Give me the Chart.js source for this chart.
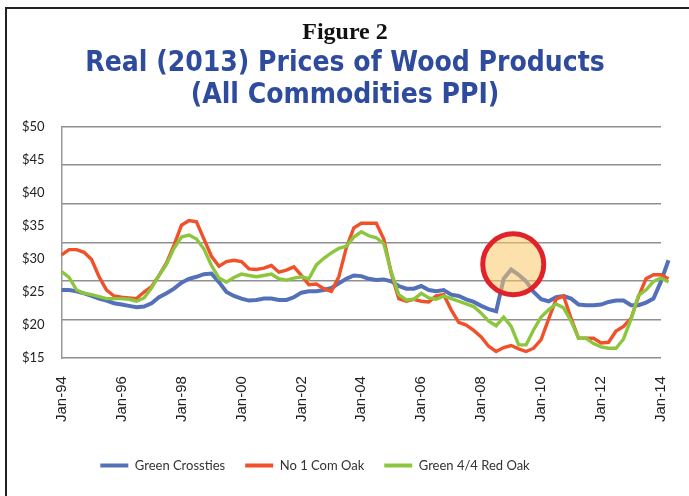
<!DOCTYPE html>
<html>
<head>
<meta charset="utf-8">
<script src="https://cdn.jsdelivr.net/npm/chart.js@4.4.1/dist/chart.umd.min.js"></script>
<style>
  html, body { margin: 0; padding: 0; background: #fff; }
  #wrap { position: relative; width: 689px; height: 496px; overflow: hidden; }
  #frame { position: absolute; left: 5px; top: 7px; width: 800px; height: 600px;
           border-left: 2px solid #222; border-top: 2px solid #222; }
  canvas { position: absolute; left: 0; top: 0; }
</style>
</head>
<body>
<div id="wrap">
  <div id="frame"></div>
  <canvas id="c" width="689" height="496"></canvas>
</div>
<script>
// ---- Data (quarterly readings, Jan-94 .. Apr-14) ----
const periods = [];
for (let y = 1994; y <= 2014; y++) {
  for (const m of [1, 4, 7, 10]) {
    if (periods.length < 82) periods.push(y + '-' + String(m).padStart(2, '0'));
  }
}
const greenCrossties = [25.3,25.3,25.1,24.8,24.4,24.0,23.7,23.3,23.1,22.9,
  22.7,22.8,23.3,24.2,24.8,25.5,26.4,27.0,27.3,27.7,
  27.8,26.5,25.0,24.4,24.0,23.7,23.8,24.0,24.0,23.8,
  23.8,24.2,24.9,25.1,25.1,25.3,25.6,26.3,27.0,27.5,
  27.4,27.0,26.8,26.9,26.6,25.9,25.5,25.5,25.9,25.3,
  25.1,25.3,24.6,24.4,23.9,23.5,22.9,22.4,22.1,27.0,
  28.4,27.6,26.6,25.0,23.9,23.6,24.2,24.4,24.0,23.1,
  23.0,23.0,23.1,23.5,23.7,23.7,23.0,23.0,23.4,24.0,
  26.6,29.8];
const no1ComOak = [30.6,31.4,31.4,31.0,29.9,27.3,25.3,24.4,24.2,24.1,
  24.0,25.0,25.8,27.5,29.4,32.1,35.1,35.8,35.6,33.0,
  30.4,28.9,29.6,29.8,29.6,28.5,28.4,28.6,29.0,28.0,
  28.3,28.8,27.5,26.1,26.2,25.5,25.1,27.3,31.7,34.7,
  35.4,35.4,35.4,33.0,27.8,24.0,23.6,23.9,23.6,23.5,
  24.4,24.6,22.3,20.4,20.0,19.2,18.2,16.8,16.0,16.6,
  16.9,16.4,16.0,16.5,17.8,20.9,23.9,24.4,21.0,18.0,
  18.0,18.0,17.3,17.4,19.1,19.8,21.0,24.3,27.0,27.6,
  27.6,27.0];
const green44RedOak = [28.1,27.2,25.3,24.8,24.6,24.3,24.0,24.0,24.0,23.9,
  23.6,24.1,25.6,27.5,29.2,31.6,33.3,33.6,33.0,31.5,
  29.0,27.1,26.5,27.2,27.7,27.5,27.3,27.5,27.7,27.0,
  26.8,27.1,27.3,27.0,29.1,30.1,30.9,31.6,31.9,33.3,
  34.1,33.5,33.2,32.3,28.0,24.6,23.8,23.9,24.8,24.1,
  23.9,24.4,24.0,23.6,23.2,22.8,21.8,20.6,19.9,21.2,
  19.8,17.0,17.0,19.3,21.2,22.3,23.2,22.6,20.6,18.0,
  18.0,17.2,16.7,16.5,16.5,17.9,20.9,24.5,25.3,26.6,
  27.1,26.5];
const xTickYears = [1994,1996,1998,2000,2002,2004,2006,2008,2010,2012,2014];
const xTickLabels = ['Jan-94','Jan-96','Jan-98','Jan-00','Jan-02','Jan-04','Jan-06','Jan-08','Jan-10','Jan-12','Jan-14'];
const yTickValues = [15,20,25,30,35,40,45,50];
const highlightPoint = { x: 2009.07, y: 29.2 };

// ---- helpers ----
function toYear(p) { const [y, m] = p.split('-').map(Number); return y + (m - 1) / 12; }
function pts(vals) { return vals.map((v, i) => ({ x: toYear(periods[i]), y: v })); }

const circlePlugin = {
  id: 'highlightCircle',
  afterDatasetsDraw(chart) {
    const { ctx, scales } = chart;
    const cx = scales.x.getPixelForValue(highlightPoint.x);
    const cy = scales.y.getPixelForValue(highlightPoint.y);
    ctx.save();
    ctx.beginPath();
    ctx.arc(cx, cy, 30.5, 0, Math.PI * 2);
    ctx.fillStyle = 'rgba(251,200,105,0.55)';
    ctx.fill();
    ctx.lineWidth = 5;
    ctx.strokeStyle = '#E1222B';
    ctx.stroke();
    ctx.restore();
  }
};
const legendShift = {
  id: 'legendShift',
  afterLayout(chart) {
    const l = chart.legend;
    if (l) { l.left -= 30; l.right -= 30; }
  }
};

const mkDs = (label, data, color, w, order) => ({
  label, data: pts(data), borderColor: color, backgroundColor: color,
  borderWidth: w, pointRadius: 0, tension: 0, clip: false, order
});

new Chart(document.getElementById('c'), {
  type: 'line',
  data: {
    datasets: [
      mkDs('Green Crossties', greenCrossties, '#5470B9', 4, 3),
      mkDs('No 1 Com Oak', no1ComOak, '#F0502A', 3.4, 2),
      mkDs('Green 4/4 Red Oak', green44RedOak, '#8CC63F', 3.4, 1)
    ]
  },
  options: {
    responsive: false,
    animation: false,
    layout: { padding: { left: 13, right: 12, top: 0, bottom: 14 } },
    plugins: {
      tooltip: { enabled: false },
      title: {
        display: true, text: 'Figure 2', color: '#111',
        font: { family: '"Liberation Serif", serif', size: 24, weight: 'bold' },
        padding: { top: 18, bottom: 0 }
      },
      subtitle: {
        display: true,
        text: ['Real (2013) Prices of Wood Products', '(All Commodities PPI)'],
        color: '#2E4B9E',
        font: { family: '"DejaVu Sans Condensed", sans-serif', size: 28, weight: 'bold', lineHeight: 1.14 },
        padding: { top: 1, bottom: 15 }
      },
      legend: {
        position: 'bottom',
        labels: {
          boxWidth: 28, boxHeight: 4, padding: 20, color: '#333',
          font: { family: 'Lato, sans-serif', size: 13 },
          sort: (a, b) => a.datasetIndex - b.datasetIndex,
          generateLabels(chart) {
            return Chart.defaults.plugins.legend.labels.generateLabels(chart)
              .map(it => Object.assign(it, { lineWidth: 0 }));
          }
        }
      }
    },
    scales: {
      x: {
        type: 'linear', min: 1994, bounds: 'data',
        afterDataLimits(s) { s.max = 2014; },
        afterBuildTicks(s) { s.ticks = xTickYears.map(v => ({ value: v })); },
        afterFit(s) { s.height += 7; },
        grid: { display: false },
        border: { display: false },
        ticks: {
          minRotation: 90, maxRotation: 90, padding: 10, color: '#222',
          font: { family: '"Liberation Sans", Arial, sans-serif', size: 15 },
          callback: (v) => xTickLabels[xTickYears.indexOf(v)]
        }
      },
      y: {
        min: 15, max: 50,
        afterBuildTicks(s) { s.ticks = yTickValues.map(v => ({ value: v })); },
        grid: { display: false },
        border: { display: true, color: '#999', width: 1.5 },
        ticks: {
          padding: 9, color: '#222',
          font: { family: 'Lato, sans-serif', size: 13 },
          callback: (v) => '$' + v
        }
      },
      yg: {
        position: 'right', min: 0, max: 6,
        ticks: { display: false, stepSize: 1 },
        grid: { color: '#8f8f8f', lineWidth: 1.5, drawTicks: false },
        border: { display: false }
      }
    }
  },
  plugins: [circlePlugin, legendShift]
});
</script>
</body>
</html>
